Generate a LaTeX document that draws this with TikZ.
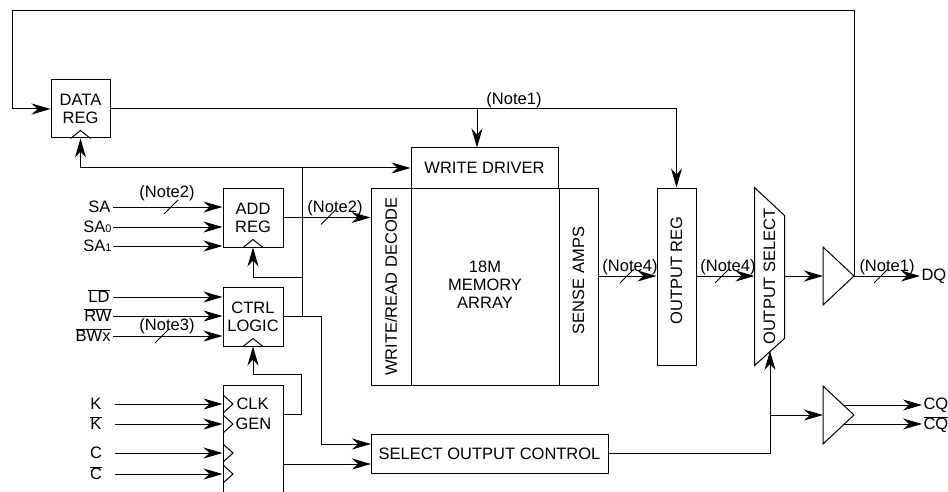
\documentclass[tikz,border=0pt]{standalone}
\usepackage{fontspec}
\setmainfont{Liberation Sans}
\usetikzlibrary{arrows.meta,calc}
\newcommand\fs{\fontsize{16.5}{18}\selectfont}
\newcommand\ovl[1]{$\overline{\mbox{#1}}$}
\newcommand\subd[1]{{\fontsize{11}{11}\selectfont #1}}
\newcommand\busslash[1]{\draw (#1) ++(-7,7) -- ++(14,-14);}
\begin{document}
\begin{tikzpicture}[x=1pt,y=-1pt, line width=1pt,
  arr/.style={-{Stealth[length=19pt,width=11pt,inset=6pt]}},
  blk/.style={draw, rectangle, inner sep=0pt, align=center, font=\fs},
  lbl/.style={font=\fs, inner sep=0pt},
  note/.style={font=\fs, inner sep=0pt}]
\useasboundingbox (0,0) rectangle (948,492);
\clip (0,0) rectangle (948,492);
% blocks
\node[blk, minimum width=59pt, minimum height=58pt] (datareg) at (80.5,109) {DATA\\REG};
\node[blk, minimum width=60pt, minimum height=59pt] (addreg) at (253,217.5) {ADD\\REG};
\node[blk, minimum width=60pt, minimum height=59pt] (ctrl) at (253,316.5) {CTRL\\LOGIC};
\node[blk, minimum width=60pt, minimum height=120pt] (clkgen) at (253,445) {};
\node[lbl, anchor=west] (clkt) at (236,404) {CLK};
\node[lbl, anchor=west] (gent) at (235,424) {GEN};
\node[blk, minimum width=147pt, minimum height=40pt] (wdrv) at (484.5,168) {WRITE DRIVER};
\node[blk, minimum width=40pt, minimum height=197pt] (decode) at (391,286.5) {\rotatebox{90}{WRITE/READ DECODE}};
\node[blk, minimum width=148pt, minimum height=197pt] (mem) at (485,286.5) {\raisebox{-3.5pt}{\begin{tabular}{@{}c@{}}18M\\MEMORY\\ARRAY\end{tabular}}};
\node[blk, minimum width=39pt, minimum height=197pt] (sense) at (578.5,286.5) {\rotatebox{90}{\hspace{12pt}SENSE AMPS}};
\node[blk, minimum width=39pt, minimum height=177pt] (outreg) at (676.5,276.5) {\rotatebox{90}{\hspace{12pt}OUTPUT REG}};
\node[inner sep=0pt, minimum width=29pt, minimum height=177pt, font=\fs] (outsel) at (769.5,276.5) {\rotatebox{90}{OUTPUT SELECT}};
\draw (outsel.north west) -- ($(outsel.north east)+(0,28)$) -- ($(outsel.south east)+(0,-27)$) -- (outsel.south west) -- cycle;
\node[blk, minimum width=237pt, minimum height=39pt] (soc) at (489.5,453.5) {SELECT OUTPUT CONTROL};
% clock markers
\draw ($(datareg.south)+(-10,0)$) -- ($(datareg.south)+(0,-8)$) -- ($(datareg.south)+(10,0)$);
\draw ($(addreg.south)+(-10,0)$) -- ($(addreg.south)+(0,-8)$) -- ($(addreg.south)+(10,0)$);
\draw ($(ctrl.south)+(-10,0)$) -- ($(ctrl.south)+(0,-8)$) -- ($(ctrl.south)+(10,0)$);
\foreach \yy in {404,424,453,474}{\draw (223,\yy-9) -- (233,\yy) -- (223,\yy+9);}
% buffers
\coordinate (b1in) at (823,276); \coordinate (b1out) at (854,276);
\draw (823,247) -- (b1out) -- (823,305) -- cycle;
\coordinate (b2in) at (823,415); \coordinate (b2out) at (854,415);
\draw (823,386) -- (b2out) -- (823,444) -- cycle;
% feedback and data paths
\draw[arr] (b1out) |- (12,11) |- (datareg.west);
\coordinate (j1) at (477,109);
\draw[arr] (datareg.east) -| (outreg.north);
\draw[arr] (j1) -- (j1 |- wdrv.north);
\node[note] at (514,100) {(Note1)};
% control bus
\coordinate (j2) at (302,168); \coordinate (j3) at (302,277); \coordinate (j4) at (302,316.5);
\draw (j4) -- (j2);
\draw[arr] (j2) -- (j2 -| wdrv.west);
\draw[arr] (j2) -| (datareg.south);
\draw[arr] (j3) -| (addreg.south);
\coordinate (s1) at (371,444); \coordinate (s2) at (371,464);
\draw[arr] (ctrl.east) -| (321,444) -- (s1);
\coordinate (ck1) at (283,414); \coordinate (ck2) at (283,464);
\draw[arr] (ck1) -| (301,374) -| (ctrl.south);
\draw[arr] (ck2) -- (s2);
% address to decode
\draw[arr] (addreg.east) -- (addreg.east -| decode.west);
\busslash{328,217.5}
\node[note] at (335,208) {(Note2)};
% sense to output
\draw[arr] (sense.east |- b1in) -- (outreg.west |- b1in);
\busslash{627,276}
\node[note] at (630,267) {(Note4)};
\draw[arr] (outreg.east |- b1in) -- (outsel.west |- b1in);
\busslash{722,276}
\node[note] at (728,267) {(Note4)};
\draw[arr] (outsel.east |- b1in) -- (b1in);
\coordinate (dq) at (920,276);
\draw[arr] (b1out) -- (dq);
\busslash{881,276}
\node[note] at (887,267) {(Note1)};
\node[lbl, anchor=west] (dqt) at (921,276) {DQ};
% select output control
\coordinate (j5) at (770,453.5); \coordinate (os) at (770,351);
\draw[arr] (soc.east) -- (j5) -- (os);
\draw[arr] (j5 |- b2in) -- (b2in);
\coordinate (cq1) at (922,405); \coordinate (cq2) at (922,424);
\coordinate (cqs1) at (843,405); \coordinate (cqs2) at (844,424);
\draw[arr] (cqs1) -- (cq1);
\draw[arr] (cqs2) -- (cq2);
\node[lbl, anchor=west] (cqt) at (923,405) {CQ};
\node[lbl, anchor=base west] (cqbt) at (923,429.7) {\ovl{CQ}};
% inputs
\coordinate (sain) at (113,207); \coordinate (sa0in) at (113,227); \coordinate (sa1in) at (113,246);
\node[lbl, anchor=base east] (sat) at (111,212.7) {SA};
\node[lbl, anchor=base east] (sa0t) at (112,232.7) {SA\subd{0}};
\node[lbl, anchor=base east] (sa1t) at (112,251.7) {SA\subd{1}};
\draw[arr] (sain) -- (sain -| addreg.west);
\draw[arr] (sa0in) -- (sa0in -| addreg.west);
\draw[arr] (sa1in) -- (sa1in -| addreg.west);
\busslash{171,207}
\node[note] at (167,193) {(Note2)};
\coordinate (ldin) at (113,297); \coordinate (rwin) at (113,316); \coordinate (bwin) at (113,336);
\node[lbl, anchor=base east] (ldt) at (110,302.7) {\ovl{LD}};
\node[lbl, anchor=base east] (rwt) at (112,321.7) {\ovl{RW}};
\node[lbl, anchor=base east] (bwt) at (111,341.7) {\ovl{BWx}};
\draw[arr] (ldin) -- (ldin -| ctrl.west);
\draw[arr] (rwin) -- (rwin -| ctrl.west);
\draw[arr] (bwin) -- (bwin -| ctrl.west);
\busslash{162,336}
\node[note] at (167,326) {(Note3)};
\coordinate (kin) at (115,404); \coordinate (kbin) at (115,424); \coordinate (cin) at (115,453); \coordinate (cbin) at (115,474);
\node[lbl, anchor=base] (kt) at (96,409.7) {K};
\node[lbl, anchor=base] (kbt) at (96,429.7) {\ovl{K}};
\node[lbl, anchor=base] (ct) at (96,458.7) {C};
\node[lbl, anchor=base] (cbt) at (96,479.7) {\ovl{C}};
\draw[arr] (kin) -- (kin -| clkgen.west);
\draw[arr] (kbin) -- (kbin -| clkgen.west);
\draw[arr] (cin) -- (cin -| clkgen.west);
\draw[arr] (cbin) -- (cbin -| clkgen.west);
\end{tikzpicture}
\end{document}
